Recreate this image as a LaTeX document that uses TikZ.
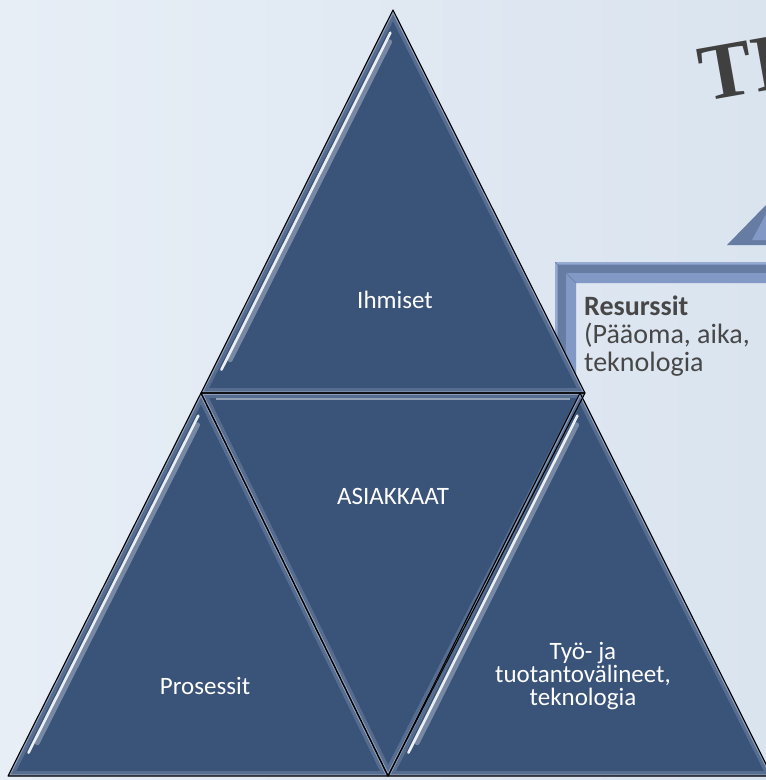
\documentclass[tikz,border=0pt]{standalone}
\usepackage{fontspec}
\setmainfont{Carlito}
\newfontfamily\titlefont{Liberation Serif}
\usetikzlibrary{calc}
\definecolor{bgA}{HTML}{E7EEF6}
\definecolor{bgB}{HTML}{DAE4EF}
\definecolor{triblue}{HTML}{3A5378}
\definecolor{rimblue}{HTML}{8CA0BE}
\definecolor{frameA}{HTML}{8199C4}
\definecolor{frameB}{HTML}{667CA2}
\definecolor{frameC}{HTML}{95AAD0}
\definecolor{titlegray}{HTML}{404040}
\definecolor{textgray}{HTML}{474747}
\newcommand\drawtri[3]{%
  \fill[triblue] (#1)--(#2)--(#3)--cycle;
  \begin{scope}
    \clip (#1)--(#2)--(#3)--cycle;
    \draw[rimblue, line width=10pt, opacity=0.35] (#1)--(#2)--(#3)--cycle;
    \draw[rimblue!70!white, line width=3.5pt, opacity=0.6] (#1)--(#2)--(#3)--cycle;
  \end{scope}}
\newcommand\streak[2]{%
  \draw[streak2] ($(#1)!0.07!(#2)+(10,5)$) -- ($(#1)!0.9!(#2)+(10,5)$);
  \draw[streak] ($(#1)!0.05!(#2)+(7,3.5)$) -- ($(#1)!0.93!(#2)+(7,3.5)$);}
\begin{document}
\begin{tikzpicture}[x=1pt,y=-1pt,
  outline/.style={draw=black, line width=1.1pt, line join=round},
  streak/.style={white, line width=2.6pt, opacity=0.9, line cap=round},
  streak2/.style={white!60!rimblue, line width=5pt, opacity=0.4, line cap=round},
  lbl/.style={text=white, font=\fontsize{25}{23}\selectfont, align=center, inner sep=0pt},
  rtxt/.style={text=textgray, font=\fontsize{28}{28}\selectfont, anchor=base west, inner sep=0pt}]
\useasboundingbox (0,0) rectangle (766,780);
\clip (0,0) rectangle (766,780);
\fill[left color=bgA, right color=bgB] (0,0) rectangle (766,780);

% title (cut off by the right edge, as in the reference)
\node[anchor=base west, rotate=10, inner sep=0pt, text=titlegray,
      font=\titlefont\bfseries\fontsize{80}{80}\selectfont] (title) at (704,102) {TI};

% small beveled triangle
\fill[frameB] (727,245) -- (766,205) -- (766,245) -- cycle;
\fill[frameA] (752,240) -- (766,214) -- (766,240) -- cycle;

% frame
\fill[frameA] (555,398) -- (555,262) -- (770,262) -- (770,283) -- (576,283) -- (576,398) -- cycle;
\draw[frameB, line width=8pt] (562,398) -- (562,269) -- (770,269);
\draw[frameC, line width=2pt] (556,398) -- (556,263) -- (770,263);
\draw[frameB, line width=0.6pt] (555,262) -- (576,283);

\node[rtxt] (res1) at (584,315) {\textbf{Resurssit}};
\node[rtxt] (res2) at (584,343) {(Pääoma, aika,};
\node[rtxt] (res3) at (584,371) {teknologia};

% pyramid coordinates
\coordinate (A) at (393,10);
\coordinate (B) at (201,393);
\coordinate (C) at (585,393);
\coordinate (Cr) at (580,393);
\coordinate (D) at (8,776);
\coordinate (E) at (388,776);
\coordinate (F) at (772,776);

\drawtri{A}{B}{C}
\drawtri{B}{D}{E}
\drawtri{B}{C}{E}
\drawtri{Cr}{E}{F}

\streak{A}{B}
\streak{B}{D}
\streak{Cr}{E}
\draw[white, line width=2pt, opacity=0.45] ($(B)!0.04!(C)+(0,6)$) -- ($(B)!0.96!(C)+(0,6)$);

\draw[outline] (A)--(B)--(C)--cycle;
\draw[outline] (B)--(D)--(E)--cycle;
\draw[outline] (B)--(C)--(E)--cycle;
\draw[outline] (Cr)--(E)--(F)--cycle;

\node[lbl] (ihm) at (395,300) {Ihmiset};
\node[lbl] (asi) at (393,496) {ASIAKKAAT};
\node[lbl] (pro) at (205,686) {Prosessit};
\node[lbl] (tyo) at (583,676) {Työ- ja\\tuotantovälineet,\\teknologia};
\end{tikzpicture}
\end{document}
